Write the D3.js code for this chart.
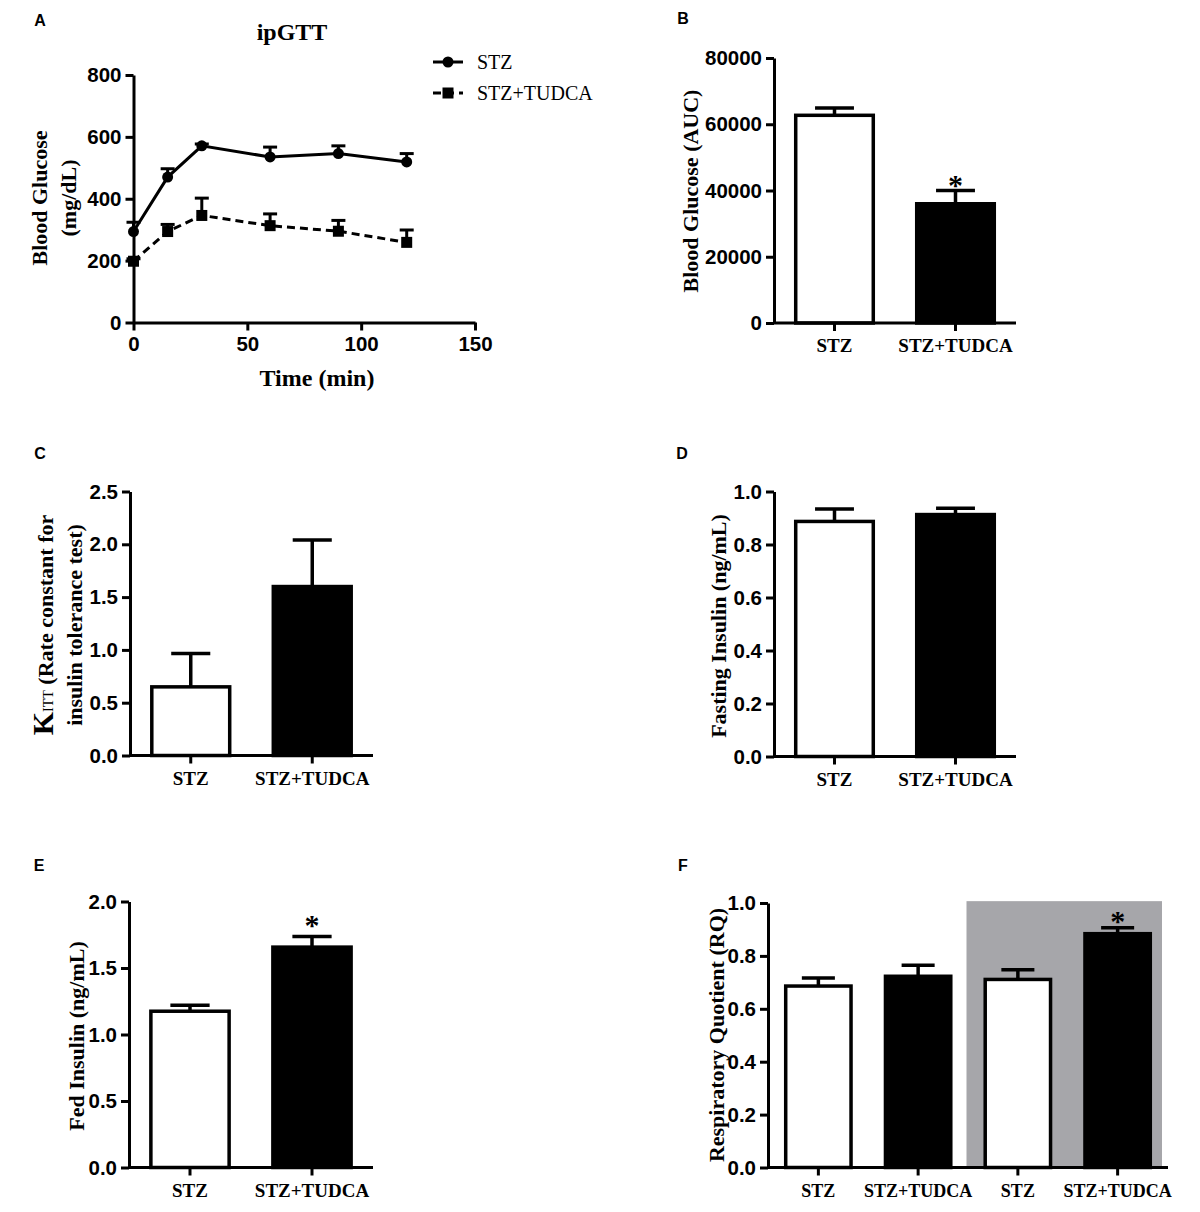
<!DOCTYPE html>
<html lang="en">
<head>
<meta charset="UTF-8">
<title>ipGTT and insulin panels</title>
<script src="https://cdn.jsdelivr.net/npm/d3@7"></script>
<style>
    body { margin: 0; background: #fff; }
    svg { display: block; }
    .tick text { font-family: "Liberation Sans Narrow", "Arial Narrow", "Liberation Sans", Arial, sans-serif; font-weight: bold; font-stretch: condensed; }
    .serif { font-family: "Liberation Serif", "Times New Roman", serif; }
    .letter { font-family: "Liberation Sans", Arial, sans-serif; font-weight: bold; font-size: 16px; }
</style>
</head>
<body>
<svg id="fig" width="1200" height="1212"></svg>
<script>
    // ipGTT time course (panel A)
    const timePoints = [0, 15, 30, 60, 90, 120];
    const stzGlucose = [294, 470, 571, 535, 546, 519];
    const stzGlucoseErr = [30, 27, 6, 32, 25, 27];
    const tudcaGlucose = [198, 294, 346, 313, 295, 259];
    const tudcaGlucoseErr = [8, 23, 56, 38, 35, 40];
    const glucoseTicks = [0, 200, 400, 600, 800];
    const timeTicks = [0, 50, 100, 150];

    // bar panels
    const groups = ["STZ", "STZ+TUDCA"];
    const aucValues = [62700, 36000];
    const aucErr = [2200, 4000];
    const aucTicks = [0, 20000, 40000, 60000, 80000];

    const kittValues = [0.65, 1.6];
    const kittErr = [0.315, 0.44];
    const kittTicks = [0, 0.5, 1.0, 1.5, 2.0, 2.5];

    const fastingValues = [0.887, 0.913];
    const fastingErr = [0.047, 0.024];
    const fastingTicks = [0, 0.2, 0.4, 0.6, 0.8, 1.0];

    const fedValues = [1.175, 1.657];
    const fedErr = [0.045, 0.08];
    const fedTicks = [0, 0.5, 1.0, 1.5, 2.0];

    const rqGroups = ["STZ", "STZ+TUDCA", "STZ", "STZ+TUDCA"];
    const rqValues = [0.686, 0.723, 0.711, 0.884];
    const rqErr = [0.03, 0.042, 0.037, 0.022];
    const rqTicks = [0, 0.2, 0.4, 0.6, 0.8, 1.0];

    const svg = d3.select("#fig");
    const LW = 3;
    const TICKFONT = 20.5;

    function styleAxis(g) {
        g.select(".domain").attr("stroke-width", LW);
        g.selectAll(".tick line").attr("stroke-width", LW);
        g.selectAll(".tick text").attr("font-size", TICKFONT).attr("fill", "#000");
    }

    function yLabel(x, y, size) {
        return svg.append("text").attr("class", "serif")
            .attr("transform", `translate(${x},${y}) rotate(-90)`)
            .attr("text-anchor", "middle")
            .attr("font-weight", "bold").attr("font-size", size);
    }

    function letter(x, y, s) {
        svg.append("text").attr("class", "letter").attr("x", x).attr("y", y)
            .attr("text-anchor", "middle").text(s);
    }

    // ---------------- Panel A ----------------
    letter(40, 26, "A");
    const xA = d3.scaleLinear().domain([0, 150]).range([133.5, 475]);
    const yA = d3.scaleLinear().domain([0, 800]).range([322.5, 75]);

    svg.append("g").attr("transform", `translate(0,${yA(0)})`)
        .call(d3.axisBottom(xA).tickValues(timeTicks).tickSize(8).tickSizeOuter(0).tickPadding(6))
        .call(styleAxis);
    svg.append("g").attr("transform", `translate(${xA(0)},0)`)
        .call(d3.axisLeft(yA).tickValues(glucoseTicks).tickSize(8).tickSizeOuter(0).tickPadding(4))
        .call(styleAxis);

    svg.append("text").attr("class", "serif").attr("x", 292).attr("y", 40)
        .attr("text-anchor", "middle").attr("font-weight", "bold").attr("font-size", 24).text("ipGTT");
    svg.append("text").attr("class", "serif").attr("x", 317).attr("y", 386)
        .attr("text-anchor", "middle").attr("font-weight", "bold").attr("font-size", 24).text("Time (min)");
    const la = yLabel(0, 198, 22);
    la.append("tspan").attr("x", 0).attr("y", 47).text("Blood Glucose");
    la.append("tspan").attr("x", 0).attr("y", 76).text("(mg/dL)");

    const series = [
        { vals: stzGlucose, errs: stzGlucoseErr, dash: null, shape: "circle" },
        { vals: tudcaGlucose, errs: tudcaGlucoseErr, dash: "8,5", shape: "square" }
    ];
    const lineA = d3.line().x((d, i) => xA(timePoints[i])).y(d => yA(d));
    series.forEach(s => {
        const eg = svg.append("g").attr("stroke", "#000").attr("stroke-width", LW);
        timePoints.forEach((t, i) => {
            const cx = xA(t), top = yA(s.vals[i] + s.errs[i]);
            eg.append("line").attr("x1", cx).attr("x2", cx).attr("y1", yA(s.vals[i])).attr("y2", top);
            eg.append("line").attr("x1", cx - 7).attr("x2", cx + 7).attr("y1", top).attr("y2", top);
        });
        svg.append("path").datum(s.vals).attr("d", lineA).attr("fill", "none")
            .attr("stroke", "#000").attr("stroke-width", LW)
            .attr("stroke-dasharray", s.dash);
        timePoints.forEach((t, i) => {
            if (s.shape === "circle") {
                svg.append("circle").attr("cx", xA(t)).attr("cy", yA(s.vals[i])).attr("r", 5.5);
            } else {
                svg.append("rect").attr("x", xA(t) - 5.5).attr("y", yA(s.vals[i]) - 5.5)
                    .attr("width", 11).attr("height", 11);
            }
        });
    });

    // legend
    svg.append("line").attr("x1", 433).attr("x2", 463).attr("y1", 62).attr("y2", 62)
        .attr("stroke", "#000").attr("stroke-width", LW);
    svg.append("circle").attr("cx", 448).attr("cy", 62).attr("r", 5.5);
    svg.append("line").attr("x1", 433).attr("x2", 463).attr("y1", 93).attr("y2", 93)
        .attr("stroke", "#000").attr("stroke-width", LW).attr("stroke-dasharray", "8,5");
    svg.append("rect").attr("x", 442.5).attr("y", 87.5).attr("width", 11).attr("height", 11);
    svg.append("text").attr("class", "serif").attr("x", 477).attr("y", 69).attr("font-size", 20).text("STZ");
    svg.append("text").attr("class", "serif").attr("x", 477).attr("y", 100).attr("font-size", 20).text("STZ+TUDCA");

    // ---------------- bar panels ----------------
    function barPanel(cfg) {
        const y = d3.scaleLinear().domain([0, cfg.max]).range([cfg.y0, cfg.yTop]);
        const idx = cfg.values.map((d, i) => i);
        const x = d3.scaleBand().domain(idx).range([cfg.ax, cfg.axEnd])
            .paddingInner(cfg.padIn).paddingOuter(cfg.padOut);
        const bw = x.bandwidth();

        if (cfg.shade) {
            svg.append("rect").attr("x", cfg.shade[0]).attr("y", y(cfg.shade[2]))
                .attr("width", cfg.shade[1] - cfg.shade[0]).attr("height", cfg.y0 - y(cfg.shade[2]))
                .attr("fill", "#a6a6aa");
        }

        // error bars (upper only)
        const eg = svg.append("g").attr("stroke", "#000").attr("stroke-width", LW + 0.5);
        idx.forEach(i => {
            const cx = x(i) + bw / 2, top = y(cfg.values[i] + cfg.errs[i]);
            eg.append("line").attr("x1", cx).attr("x2", cx).attr("y1", y(cfg.values[i])).attr("y2", top);
            eg.append("line").attr("x1", cx - bw * 0.24).attr("x2", cx + bw * 0.24).attr("y1", top).attr("y2", top);
        });

        svg.append("g").selectAll("rect").data(cfg.values).join("rect")
            .attr("x", (d, i) => x(i) + 1.75).attr("width", bw - 3.5)
            .attr("y", d => y(d)).attr("height", d => cfg.y0 - y(d))
            .attr("fill", (d, i) => cfg.fills[i]).attr("stroke", "#000").attr("stroke-width", LW + 0.5);

        svg.append("g").attr("transform", `translate(${cfg.ax},0)`)
            .call(d3.axisLeft(y).tickValues(cfg.ticks).tickSize(8).tickSizeOuter(0).tickPadding(4)
                .tickFormat(cfg.fmt))
            .call(styleAxis);
        svg.append("line").attr("x1", cfg.ax).attr("x2", cfg.axEnd).attr("y1", cfg.y0).attr("y2", cfg.y0)
            .attr("stroke", "#000").attr("stroke-width", LW);
        idx.forEach(i => {
            const cx = x(i) + bw / 2;
            svg.append("line").attr("x1", cx).attr("x2", cx).attr("y1", cfg.y0).attr("y2", cfg.y0 + 8)
                .attr("stroke", "#000").attr("stroke-width", LW);
            svg.append("text").attr("class", "serif").attr("x", cx).attr("y", cfg.y0 + 29)
                .attr("text-anchor", "middle").attr("font-weight", "bold").attr("font-size", cfg.catSize || 19)
                .text(cfg.labels[i]);
        });

        (cfg.stars || []).forEach(i => {
            const cx = x(i) + bw / 2, top = y(cfg.values[i] + cfg.errs[i]);
            svg.append("text").attr("class", "serif").attr("x", cx).attr("y", top + (cfg.starDy ?? 4))
                .attr("text-anchor", "middle").attr("font-weight", "bold").attr("font-size", 30).text("*");
        });
    }

    const fills2 = ["#fff", "#000"];

    // B
    letter(683, 24, "B");
    barPanel({ ax: 774, axEnd: 1016, y0: 323, yTop: 58, max: 80000, ticks: aucTicks, fmt: d3.format("d"),
        values: aucValues, errs: aucErr, fills: fills2, labels: groups, padIn: 0.33, padOut: 0.165, stars: [1] });
    yLabel(698, 191, 22).text("Blood Glucose (AUC)");

    // C
    letter(40, 459, "C");
    barPanel({ ax: 130, axEnd: 373, y0: 755.5, yTop: 491.5, max: 2.5, ticks: kittTicks, fmt: d3.format(".1f"),
        values: kittValues, errs: kittErr, fills: fills2, labels: groups, padIn: 0.33, padOut: 0.165 });
    const lc = yLabel(0, 625, 22);
    const l1 = lc.append("tspan").attr("x", 0).attr("y", 53);
    l1.append("tspan").attr("font-size", 30).text("K");
    l1.append("tspan").attr("font-size", 14).attr("font-weight", "normal").text("ITT");
    l1.append("tspan").text(" (Rate constant for");
    lc.append("tspan").attr("x", 0).attr("y", 82).text("insulin tolerance test)");

    // D
    letter(682, 459, "D");
    barPanel({ ax: 774, axEnd: 1016, y0: 756.5, yTop: 491.5, max: 1.0, ticks: fastingTicks, fmt: d3.format(".1f"),
        values: fastingValues, errs: fastingErr, fills: fills2, labels: groups, padIn: 0.33, padOut: 0.165 });
    yLabel(726, 626, 22).text("Fasting Insulin (ng/mL)");

    // E
    letter(39, 871, "E");
    barPanel({ ax: 129, axEnd: 373, y0: 1167.5, yTop: 901.5, max: 2.0, ticks: fedTicks, fmt: d3.format(".1f"),
        values: fedValues, errs: fedErr, fills: fills2, labels: groups, padIn: 0.33, padOut: 0.165,
        stars: [1], starDy: -1 });
    yLabel(84, 1036, 22).text("Fed Insulin (ng/mL)");

    // F
    letter(683, 871, "F");
    barPanel({ ax: 768, axEnd: 1168, y0: 1167.5, yTop: 903, max: 1.0, ticks: rqTicks, fmt: d3.format(".1f"),
        values: rqValues, errs: rqErr, fills: ["#fff", "#000", "#fff", "#000"], labels: rqGroups,
        padIn: 0.31, padOut: 0.16, catSize: 18, stars: [3], starDy: 3, shade: [966.5, 1162, 1.007] });
    yLabel(724, 1035, 22).text("Respiratory Quotient (RQ)");
</script>
</body>
</html>
